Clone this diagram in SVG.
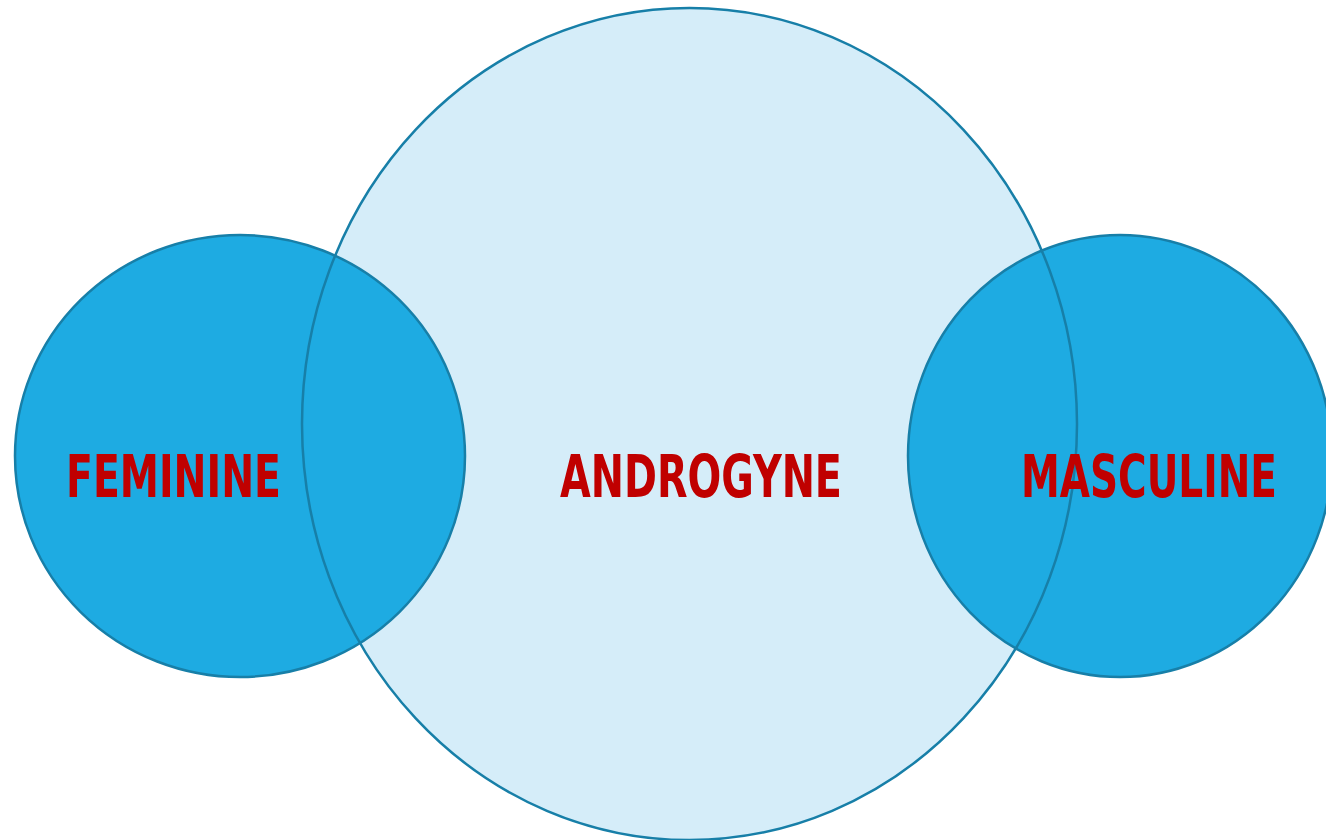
<svg xmlns="http://www.w3.org/2000/svg" width="1326" height="840" viewBox="0 0 1326 840">
  <style>
    .big { fill: #D5EDF9; }
    .small { fill: #1EABE2; }
    .edge { fill: none; stroke: #177FA8; stroke-width: 2.5; }
    .label { font-family: "DejaVu Sans Condensed", "DejaVu Sans", "Liberation Sans", sans-serif; font-weight: bold; font-size: 58px; fill: #C00000; }
  </style>
  <rect width="1326" height="840" fill="#FFFFFF"/>
  <g id="androgyne">
    <ellipse class="big" cx="689.5" cy="424" rx="387.5" ry="416"/>
  </g>
  <g id="feminine">
    <ellipse class="small" cx="240" cy="456" rx="225" ry="221"/>
  </g>
  <g id="masculine">
    <ellipse class="small" cx="1120" cy="456" rx="212" ry="221"/>
  </g>
  <g id="outlines">
    <ellipse class="edge" cx="689.5" cy="424" rx="387.5" ry="416"/>
    <ellipse class="edge" cx="240" cy="456" rx="225" ry="221"/>
    <ellipse class="edge" cx="1120" cy="456" rx="212" ry="221"/>
  </g>
  <g id="labels">
    <text class="label" x="66" y="497" textLength="215" lengthAdjust="spacingAndGlyphs">FEMININE</text>
    <text class="label" x="560" y="497" textLength="282" lengthAdjust="spacingAndGlyphs">ANDROGYNE</text>
    <text class="label" x="1021" y="497" textLength="256" lengthAdjust="spacingAndGlyphs">MASCULINE</text>
  </g>
</svg>
